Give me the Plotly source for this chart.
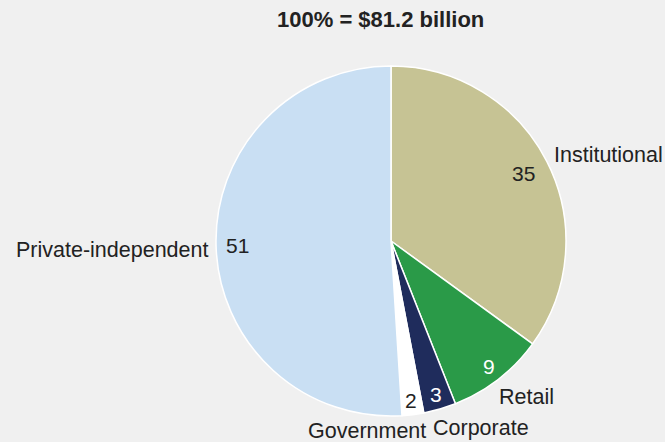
import math
import plotly.graph_objects as go

# Share of total, by segment (percent)
segments = ["Institutional", "Retail", "Corporate", "Government", "Private-independent"]
shares = [35, 9, 3, 2, 51]
title_text = "100% = $81.2 billion"

colors = ["#c6c394", "#2a9a48", "#1f2c5c", "#ffffff", "#c9dff3"]
value_font_colors = ["#222222", "#ffffff", "#ffffff", "#222222", "#222222"]

W, H = 665, 442
CX, CY, R = 391, 241, 175  # pie centre and radius in pixels

fig = go.Figure(go.Pie(
    labels=segments,
    values=shares,
    sort=False,
    direction="clockwise",
    rotation=0,
    textinfo="none",
    hoverinfo="label+value",
    marker=dict(colors=colors, line=dict(color="#ffffff", width=1.5)),
    domain=dict(x=[(CX - R) / W, (CX + R) / W], y=[1 - (CY + R) / H, 1 - (CY - R) / H]),
    showlegend=False,
))

# radial position of each value label (fraction of radius)
value_radius = [0.85, 0.91, 0.915, 0.92, 0.88]
# outer label placement: anchor and pixel shift from the rim point at the slice midpoint
label_style = [
    ("left", 5, 7),
    ("center", 28, -18),
    ("center", 41, -19),
    ("right", 15, -16),
    ("right", -6, -4),
]

font = "Liberation Sans, Arial, Helvetica, sans-serif"
annotations = []
total = sum(shares)
cum = 0
for seg, val, vr, vcol, (anchor, dx, dy) in zip(segments, shares, value_radius, value_font_colors, label_style):
    mid = (cum + val / 2) / total * 2 * math.pi
    cum += val
    sx, sy = math.sin(mid), math.cos(mid)
    # value inside the slice
    annotations.append(dict(
        x=(CX + vr * R * sx) / W, y=1 - (CY - vr * R * sy) / H,
        xref="paper", yref="paper", text=str(val), showarrow=False,
        xanchor="center", yanchor="middle",
        font=dict(family=font, size=21, color=vcol),
    ))
    # segment name outside the pie
    annotations.append(dict(
        x=(CX + R * sx) / W, y=1 - (CY - R * sy) / H,
        xref="paper", yref="paper", text=seg, showarrow=False,
        xanchor=anchor, yanchor="middle", xshift=dx, yshift=dy,
        font=dict(family=font, size=21.5, color="#222222"),
    ))

annotations.append(dict(
    x=381 / W, y=1 - 20 / H, xref="paper", yref="paper",
    text="<b>" + title_text + "</b>", showarrow=False,
    xanchor="center", yanchor="middle",
    font=dict(family=font, size=22, color="#222222"),
))

fig.update_layout(
    width=W, height=H,
    margin=dict(l=0, r=0, t=0, b=0),
    paper_bgcolor="#f0f0f0",
    plot_bgcolor="#f0f0f0",
    annotations=annotations,
)

fig.write_html("out.html")
